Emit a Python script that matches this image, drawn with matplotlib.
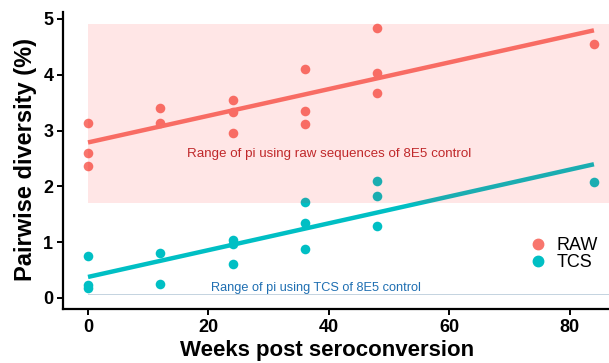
import numpy as np
import matplotlib.pyplot as plt
from matplotlib.lines import Line2D

# weeks post seroconversion and pairwise diversity (%)
raw_weeks = [0, 0, 0, 12, 12, 24, 24, 24, 36, 36, 36, 48, 48, 48, 84]
raw_pi = [3.14, 2.59, 2.37, 3.41, 3.13, 3.54, 3.34, 2.95, 4.10, 3.35, 3.11, 4.84, 4.04, 3.67, 4.55]
tcs_weeks = [0, 0, 0, 12, 12, 24, 24, 24, 36, 36, 36, 48, 48, 48, 84]
tcs_pi = [0.75, 0.23, 0.18, 0.81, 0.25, 1.03, 0.96, 0.60, 1.71, 1.35, 0.87, 2.09, 1.83, 1.28, 2.07]

# range of pi for the 8E5 control
raw_range = (1.70, 4.91)
tcs_range = (0.045, 0.065)

xticks = [0, 20, 40, 60, 80]
yticks = [0, 1, 2, 3, 4, 5]

RAW_COL = "#F8766D"
TCS_COL = "#00BFC4"
plt.rcParams['font.family'] = ['Liberation Sans', 'DejaVu Sans']

fig = plt.figure(figsize=(6.09, 3.63), dpi=100)
ax = fig.add_axes([63 / 609, 54 / 363, 546 / 609, 297 / 363])

ax.scatter(raw_weeks, raw_pi, s=48, color=RAW_COL, zorder=3, linewidths=0)
ax.scatter(tcs_weeks, tcs_pi, s=48, color=TCS_COL, zorder=3, linewidths=0)

# linear fits
for wk, pi, col in [(raw_weeks, raw_pi, RAW_COL), (tcs_weeks, tcs_pi, TCS_COL)]:
    k, b = np.polyfit(wk, pi, 1)
    xs = np.array([min(wk), max(wk)])
    ax.plot(xs, k * xs + b, color=col, lw=3.2, solid_capstyle='butt', zorder=2)

ax.fill_between([0, 100], raw_range[0], raw_range[1], color="#ff2020", alpha=0.11,
                lw=0, zorder=4)
ax.fill_between([0, 100], tcs_range[0], tcs_range[1], color="#9fb8cc", alpha=0.6,
                lw=0, zorder=4)

ax.text(40, 2.58, "Range of pi using raw sequences of 8E5 control", color="#c0282a",
        fontsize=9.6, ha='center', va='center', zorder=5)
ax.text(37.8, 0.18, "Range of pi using TCS of 8E5 control", color="#1f6fb2",
        fontsize=9.2, ha='center', va='center', zorder=5)

ax.set_xlim(-4.15, 86.5)
ax.set_ylim(-0.2, 5.125)
ax.set_xticks(xticks, labels=[str(t) for t in xticks], fontweight='bold', fontsize=13)
ax.set_yticks(yticks, labels=[str(t) for t in yticks], fontweight='bold', fontsize=13)
for s in ['top', 'right']:
    ax.spines[s].set_visible(False)
for s in ['left', 'bottom']:
    ax.spines[s].set_linewidth(1.6)
ax.tick_params(width=1.4, length=4, pad=3)

ax.set_xlabel("Weeks post seroconversion", fontsize=16, fontweight='bold')
ax.xaxis.set_label_coords((327 - 63) / 546, -0.104)
ax.set_ylabel("Pairwise diversity (%)", fontsize=17, fontweight='bold')
ax.yaxis.set_label_coords(-0.0476, (309 - 160) / 297)

handles = [Line2D([], [], marker='o', ls='', color=RAW_COL, markersize=7.5, label='RAW'),
           Line2D([], [], marker='o', ls='', color=TCS_COL, markersize=7.5, label='TCS')]
ax.legend(handles=handles, loc='center left', bbox_to_anchor=((527 - 63) / 546, (309 - 254) / 297),
          frameon=False, fontsize=13, handletextpad=0.45, labelspacing=0.0,
          borderpad=0, borderaxespad=0, handlelength=1.2)

fig.savefig("out.png", dpi=100)
